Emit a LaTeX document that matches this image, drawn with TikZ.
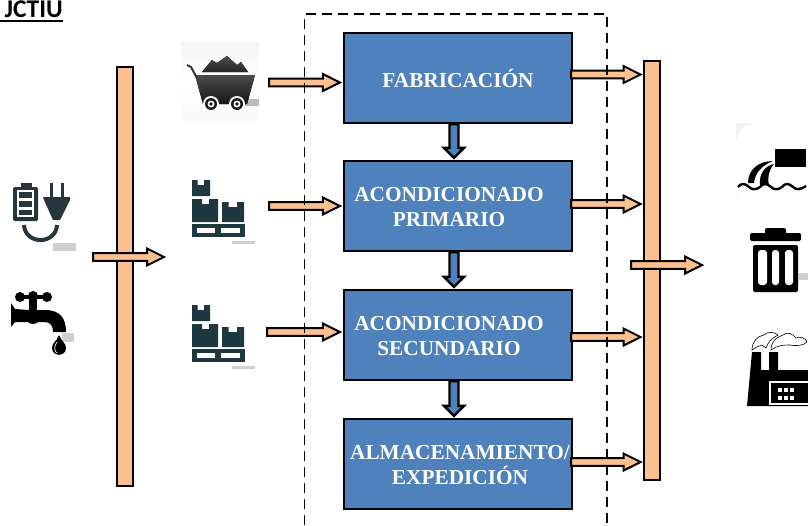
\documentclass[tikz,border=0pt]{standalone}
\usepackage{fontspec}
\setmainfont{Liberation Serif}
\newfontfamily\titlefont{Carlito}
\usetikzlibrary{calc}
\definecolor{peach}{HTML}{FAC08F}
\definecolor{stepblue}{HTML}{4F81BD}
\definecolor{palletcol}{HTML}{1F383F}
\definecolor{plugcol}{HTML}{27363D}
\definecolor{tagcol}{HTML}{D0D0D0}
\newcommand{\shiftline}{\hspace*{-18pt}\rule{0pt}{17pt}}
\tikzset{
	stepbox/.style={draw=black,line width=2.2pt,fill=stepblue,minimum width=228pt,minimum height=90pt,inner sep=0pt,
		text=white,font=\bfseries\fontsize{21.3}{25}\selectfont,align=center},
	busbar/.style={draw=black,line width=2pt,fill=peach,minimum width=16pt,inner sep=0pt},
	flow/.style={draw=black,line width=2pt,fill=peach,miter limit=10,to path={
		($(\tikztostart)!3.8pt!90:(\tikztotarget)$) --
		($(\tikztotarget)!17pt!(\tikztostart)!3.8pt!90:(\tikztotarget)$) --
		($(\tikztotarget)!17pt!(\tikztostart)!8.5pt!90:(\tikztotarget)$) --
		(\tikztotarget) --
		($(\tikztotarget)!17pt!(\tikztostart)!-8.5pt!90:(\tikztotarget)$) --
		($(\tikztotarget)!17pt!(\tikztostart)!-3.8pt!90:(\tikztotarget)$) --
		($(\tikztostart)!-3.8pt!90:(\tikztotarget)$) -- cycle}},
	down/.style={draw=black,line width=2.4pt,fill=stepblue,miter limit=10,to path={
		($(\tikztostart)!4.5pt!90:(\tikztotarget)$) --
		($(\tikztotarget)!10pt!(\tikztostart)!4.5pt!90:(\tikztotarget)$) --
		($(\tikztotarget)!10pt!(\tikztostart)!10pt!90:(\tikztotarget)$) --
		(\tikztotarget) --
		($(\tikztotarget)!10pt!(\tikztostart)!-10pt!90:(\tikztotarget)$) --
		($(\tikztotarget)!10pt!(\tikztostart)!-4.5pt!90:(\tikztotarget)$) --
		($(\tikztostart)!-4.5pt!90:(\tikztotarget)$) -- cycle}},
	pallet/.pic={
		\fill[palletcol] (0,0) -- (5.5,0) -- (5.5,5) -- (12,5) -- (12,0) -- (18,0) -- (18,16) -- (0,16) -- cycle;
		\fill[palletcol] (0,19) -- (10,19) -- (10,24) -- (17,24) -- (17,19) -- (26,19) -- (26,42) -- (0,42) -- cycle;
		\fill[palletcol] (30,22) -- (36.5,22) -- (36.5,27) -- (45,27) -- (45,22) -- (52,22) -- (52,42) -- (30,42) -- cycle;
		\fill[palletcol] (0,44) rectangle (53,48);
		\fill[palletcol] (0,53) rectangle (53,57);
		\fill[palletcol] (0,48) rectangle (5,53);
		\fill[palletcol] (23,48) rectangle (29,53);
		\fill[palletcol] (48,48) rectangle (53,53);
		\fill[tagcol] (40,61) rectangle (63,64);
	}
}
\begin{document}
\begin{tikzpicture}[x=1pt,y=-1pt]
\useasboundingbox (0,0) rectangle (808,525);
\node[anchor=base east,font=\titlefont\bfseries\fontsize{25.5}{26}\selectfont,inner sep=0pt] (title) at (63,17.3) {JCTIU};
\draw[line width=2pt] (0,20.5) -- (63,20.5);

\node[stepbox] (fab) at (458,78) {FABRICACIÓN};
\node[stepbox] (primary) at (458,206) {\shiftline ACONDICIONADO\\\shiftline PRIMARIO};
\node[stepbox] (secondary) at (458,335) {\shiftline ACONDICIONADO\\\shiftline SECUNDARIO};
\node[stepbox] (store) at (458,464) {\hspace*{4pt}\rule{0pt}{17pt}ALMACENAMIENTO/\\\hspace*{4pt}EXPEDICIÓN};

\node[busbar,minimum height=419pt] (busin) at (125,276.5) {};
\node[busbar,minimum height=419pt] (busout) at (651.5,270.5) {};

\coordinate (inA) at (269,82.5);
\coordinate (inB) at (269,206);
\coordinate (inC) at (267,332);
\coordinate (outA) at (571,74.5);
\coordinate (outB) at (571,204);
\coordinate (outC) at (571,337);
\coordinate (outD) at (571,462);
\coordinate (businL) at (93,257);
\coordinate (businR) at (164,257);
\coordinate (busoutL) at (631,265);
\coordinate (busoutR) at (702,265);

\draw[flow] (inA) to ([xshift=-3pt]inA -| fab.west);
\draw[flow] (inB) to ([xshift=-3pt]inB -| primary.west);
\draw[flow] (inC) to ([xshift=-3pt]inC -| secondary.west);
\draw[flow] (outA) to ([xshift=-2pt]outA -| busout.west);
\draw[flow] (outB) to ([xshift=-2pt]outB -| busout.west);
\draw[flow] (outC) to ([xshift=-2pt]outC -| busout.west);
\draw[flow] (outD) to ([xshift=-2pt]outD -| busout.west);
\draw[flow] (businL) to (businR);
\draw[flow] (busoutL) to (busoutR);

\draw[down] ([xshift=-4pt]fab.south) to ([xshift=-4pt,yshift=2pt]primary.north);
\draw[down] ([xshift=-4pt]primary.south) to ([xshift=-4pt,yshift=2pt]secondary.north);
\draw[down] ([xshift=-4pt]secondary.south) to ([xshift=-4pt,yshift=2pt]store.north);

\draw[line width=1.6pt,dash pattern=on 10pt off 6pt] (304.5,525) -- (304.5,14) -- (607,14) -- (607,525);

\fill[top color=black!4,bottom color=black!2,middle color=white] (181,42) rectangle (259,120);
\fill[top color=black!70,bottom color=black!85] (202,72) -- (212,60) -- (217,63) -- (227,56) -- (237,65) -- (241,62) -- (248,72) -- cycle;
\fill[tagcol!90!black] (243,99) rectangle (259,106);
\fill[top color=black!70,bottom color=black!92] (195,75) -- (255,75) -- (247,104) -- (203,104) -- cycle;
\draw[line width=2pt,black!80] (187,65) -- (191,67) -- (197,78);
\foreach \wheelx in {211,237} {
	\fill[white] (\wheelx,104) circle (8);
	\fill[black!90] (\wheelx,104) circle (6);
	\fill[white] (\wheelx,104) circle (3.5);
	\fill[black!90] (\wheelx,104) circle (1.8);
}

\pic at (192,180) {pallet};
\pic at (192,305) {pallet};

\fill[plugcol] (20.5,183) rectangle (32,188);
\fill[plugcol,rounded corners=1.5pt] (13,187) rectangle (38,221);
\fill[white] (17,190) rectangle (34,217);
\fill[plugcol] (19,192) rectangle (32,198);
\fill[plugcol] (19,201) rectangle (32,206.5);
\fill[plugcol] (19,210) rectangle (32,215);
\fill[plugcol] (49.5,183) rectangle (52.5,197);
\fill[plugcol] (61,183) rectangle (64,197);
\fill[plugcol] (43,197) -- (70,197) -- (70,200) -- (60,220) -- (53,220) -- (44,200) -- cycle;
\draw[plugcol,line width=4pt] (24,225) .. controls (25,245) and (56,245) .. (57,225);
\fill[tagcol] (53,243) rectangle (76,251);

\fill[black] (20,297) circle (5);
\fill[black] (33,296) circle (5);
\fill[black] (47,297) circle (5);
\fill[black] (20,295) rectangle (47,299);
\fill[black] (29,296) rectangle (37,318);
\fill[black] (11,303) -- (15,309) -- (28,310) -- (45,310) .. controls (60,310) and (66,318) .. (66,332) -- (53,332) .. controls (53,325) and (50,322) .. (44,322) -- (15,322) -- (11,327) -- cycle;
\fill[black] (33,317) circle (7);
\fill[tagcol] (62,333) rectangle (74,342);
\fill[black] (59,335) .. controls (61,341) and (66,343) .. (66,348) .. controls (66,357) and (52,357) .. (52,348) .. controls (52,343) and (57,341) .. (59,335) -- cycle;
\draw[white,line width=0.7pt] (57,342) .. controls (54,346) and (54,351) .. (57,353);

\fill[black!5] (736,123) rectangle (808,200);
\fill[white,rounded corners=22pt] (736,123) rectangle (830,215);
\fill[black] (775,149) rectangle (806,167);
\draw[black,line width=2.4pt] (738,187) .. controls (741,183) and (745,183) .. (749,187) .. controls (752,190) and (756,190) .. (760,187) .. controls (763,183) and (767,183) .. (771,187) .. controls (774,190) and (778,190) .. (782,187) .. controls (785,183) and (789,183) .. (793,187) .. controls (796,190) and (800,190) .. (806,186);
\fill[black] (748,183) .. controls (748,170) and (758,161) .. (773,161) .. controls (763,165) and (755,172) .. (754,183) -- cycle;
\fill[black] (760,185) .. controls (759,173) and (765,166) .. (774,164) .. controls (769,170) and (767,177) .. (769,185) -- cycle;

\fill[black,rounded corners=2pt] (765,228) rectangle (786,236);
\fill[black,rounded corners=1.5pt] (750,233) rectangle (801,241);
\fill[black,rounded corners=2pt] (753,245) rectangle (798,292);
\fill[white,rounded corners=3pt] (758,250) rectangle (767,285);
\fill[white,rounded corners=3pt] (772,250) rectangle (779,285);
\fill[white,rounded corners=3pt] (785,250) rectangle (793,285);
\fill[tagcol] (798,273) rectangle (808,280);

\fill[black] (747,406) -- (752,352) -- (761,352) -- (761,370) -- (769,370) -- (769,352) -- (778,352) -- (778,370) -- (808,370) -- (808,406) -- cycle;
\fill[white] (769,381) rectangle (808,383);
\fill[white] (769,381) rectangle (771,405);
\fill[white] (771,403) rectangle (808,405);
\foreach \dotx in {778,784,790} {
	\foreach \doty in {388,396} {
		\fill[white] (\dotx,\doty) rectangle ++(3.5,3.5);
	}
}
\draw[black,fill=white,line width=0.6pt] (752,350) .. controls (752,342) and (757,336) .. (764,335) .. controls (768,331) and (775,332) .. (778,335) .. controls (772,338) and (768,342) .. (766,348) -- (762,345) .. controls (758,346) and (755,348) .. cycle;
\draw[black,fill=white,line width=0.6pt] (771,350) .. controls (771,342) and (776,337) .. (783,335) .. controls (787,331) and (793,334) .. (796,338) .. controls (800,336) and (806,338) .. (807,342) .. controls (803,346) and (796,346) .. (790,345) .. controls (784,345) and (778,345) .. cycle;
\end{tikzpicture}
\end{document}
